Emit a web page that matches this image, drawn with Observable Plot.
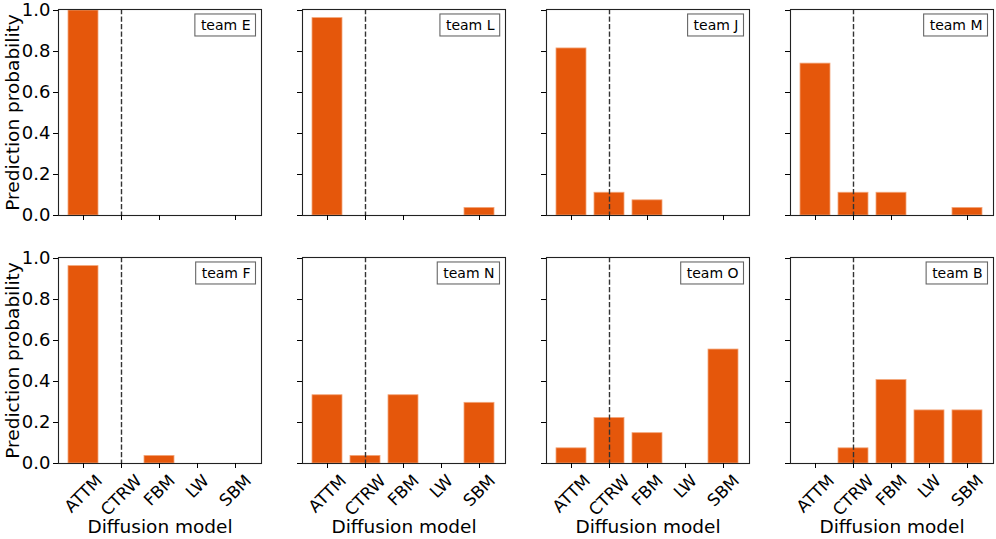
<!DOCTYPE html>
<html>
<head>
<meta charset="utf-8">
<script src="https://cdn.jsdelivr.net/npm/d3@7"></script>
<script src="https://cdn.jsdelivr.net/npm/@observablehq/plot@0.6"></script>
<style>
  html, body { margin: 0; padding: 0; background: #fff; }
</style>
</head>
<body>
<div id="chart"></div>
<script>
// ---- data ----
const models = ["ATTM", "CTRW", "FBM", "LW", "SBM"];
const teams = ["team E", "team L", "team J", "team M", "team F", "team N", "team O", "team B"];
const teamE = [1.0, 0, 0, 0, 0];
const teamL = [0.963, 0, 0, 0, 0.037];
const teamJ = [0.815, 0.111, 0.074, 0, 0];
const teamM = [0.741, 0.111, 0.111, 0, 0.037];
const teamF = [0.963, 0, 0.037, 0, 0];
const teamN = [0.333, 0.037, 0.333, 0, 0.296];
const teamO = [0.074, 0.222, 0.148, 0, 0.556];
const teamB = [0, 0.074, 0.407, 0.259, 0.259];
const groundTruth = "CTRW";
const yTicks = [0, 0.2, 0.4, 0.6, 0.8, 1.0];
const topRowTicks = ["ATTM", "CTRW", "FBM", "SBM"];
const yLabel = "Prediction probability";
const xLabel = "Diffusion model";

const FONT = "DejaVu Sans";
const series = [teamE, teamL, teamJ, teamM, teamF, teamN, teamO, teamB];
const panels = teams.map((team, i) => ({team, col: i % 4, row: Math.floor(i / 4), model: groundTruth}));
const bars = [];
panels.forEach((p, i) => models.forEach((m, j) => bars.push({team: p.team, col: p.col, row: p.row, model: m, p: series[i][j]})));
const bottomPanels = panels.filter(d => d.row === 1);
const leftPanels = panels.filter(d => d.col === 0);
const yTickLabels = [];
leftPanels.forEach(p => yTicks.forEach(v => yTickLabels.push({col: p.col, row: p.row, v})));

// rotated tick labels, centred like matplotlib (rotation 45, ha=center, va=top)
const TICK_FS = 16.8;
const ctx = document.createElement("canvas").getContext("2d");
ctx.font = TICK_FS + "px 'DejaVu Sans'";
const tickLabelMarks = models.map(m => {
  const w = ctx.measureText(m).width;
  return Plot.text(bottomPanels.map(d => ({...d, model: m})), {
    fx: "col", fy: "row", x: "model", text: "model",
    frameAnchor: "bottom", rotate: -45, textAnchor: "middle", lineAnchor: "middle",
    dy: 10 + (w + 0.73 * TICK_FS) * 0.3536, fontSize: TICK_FS + "px", fontFamily: FONT, fill: "black"
  });
});

const chart = Plot.plot({
  width: 996,
  height: 539,
  marginLeft: 57,
  marginRight: 1,
  marginTop: 8,
  marginBottom: 76,
  style: {fontFamily: FONT, fontSize: "18px", color: "black", background: "white", overflow: "visible"},
  fx: {domain: [0, 1, 2, 3], paddingInner: 0.166, paddingOuter: 0, axis: null, label: null},
  fy: {domain: [0, 1], paddingInner: 0.17, paddingOuter: 0, axis: null, label: null},
  x: {type: "band", domain: models, paddingInner: 0.2, paddingOuter: 0.24, align: 0.5, axis: null},
  y: {domain: [0, 1.005], axis: null},
  marks: [
    Plot.barY(bars, {fx: "col", fy: "row", x: "model", y: "p", fill: "#e5570b", stroke: "#f3a67a", strokeWidth: 0.8}),
    Plot.ruleX(panels, {fx: "col", fy: "row", x: "model", stroke: "#333", strokeWidth: 1.4, strokeDasharray: "5.2,2.3"}),
    Plot.frame({stroke: "#222", strokeWidth: 1.1}),
    Plot.axisY(yTicks, {facetAnchor: null, tickSize: 5, tickFormat: () => "", label: null}),
    Plot.axisX(models, {facetAnchor: "bottom", tickSize: 5, tickFormat: () => "", label: null}),
    Plot.axisX(topRowTicks, {facetAnchor: "top", tickSize: 5, tickFormat: () => "", label: null}),
    Plot.text(yTickLabels, {fx: "col", fy: "row", y: "v", text: d => d3.format(".1f")(d.v),
      frameAnchor: "left", textAnchor: "end", lineAnchor: "middle", dx: -8, fontSize: "18px", fontFamily: FONT, fill: "black"}),
    Plot.text(leftPanels, {fx: "col", fy: "row", text: () => yLabel, frameAnchor: "left", rotate: -90,
      textAnchor: "middle", lineAnchor: "middle", dx: -45, fontSize: "18.5px", fontFamily: FONT, fill: "black"}),
    ...tickLabelMarks,
    Plot.text(bottomPanels, {fx: "col", fy: "row", text: () => xLabel, frameAnchor: "bottom",
      textAnchor: "middle", lineAnchor: "middle", dy: 64, fontSize: "18.5px", fontFamily: FONT, fill: "black"}),
    Plot.text(panels, {fx: "col", fy: "row", text: "team", frameAnchor: "top-right", textAnchor: "end", lineAnchor: "middle",
      dx: -11, dy: 16, fontSize: "14px", fontFamily: FONT, fill: "black"})
  ]
});
document.getElementById("chart").appendChild(chart);

// boxes round the team labels
const teamSet = new Set(teams);
chart.querySelectorAll("text").forEach(t => {
  if (!teamSet.has(t.textContent.trim())) return;
  const b = t.getBBox();
  const r = document.createElementNS("http://www.w3.org/2000/svg", "rect");
  r.setAttribute("x", b.x - 6);
  r.setAttribute("y", b.y + b.height / 2 - 11);
  r.setAttribute("width", b.width + 11);
  r.setAttribute("height", 22);
  r.setAttribute("fill", "white");
  r.setAttribute("stroke", "#666");
  r.setAttribute("stroke-width", 1.1);
  if (t.getAttribute("transform")) r.setAttribute("transform", t.getAttribute("transform"));
  t.parentNode.insertBefore(r, t);
});
</script>
</body>
</html>
